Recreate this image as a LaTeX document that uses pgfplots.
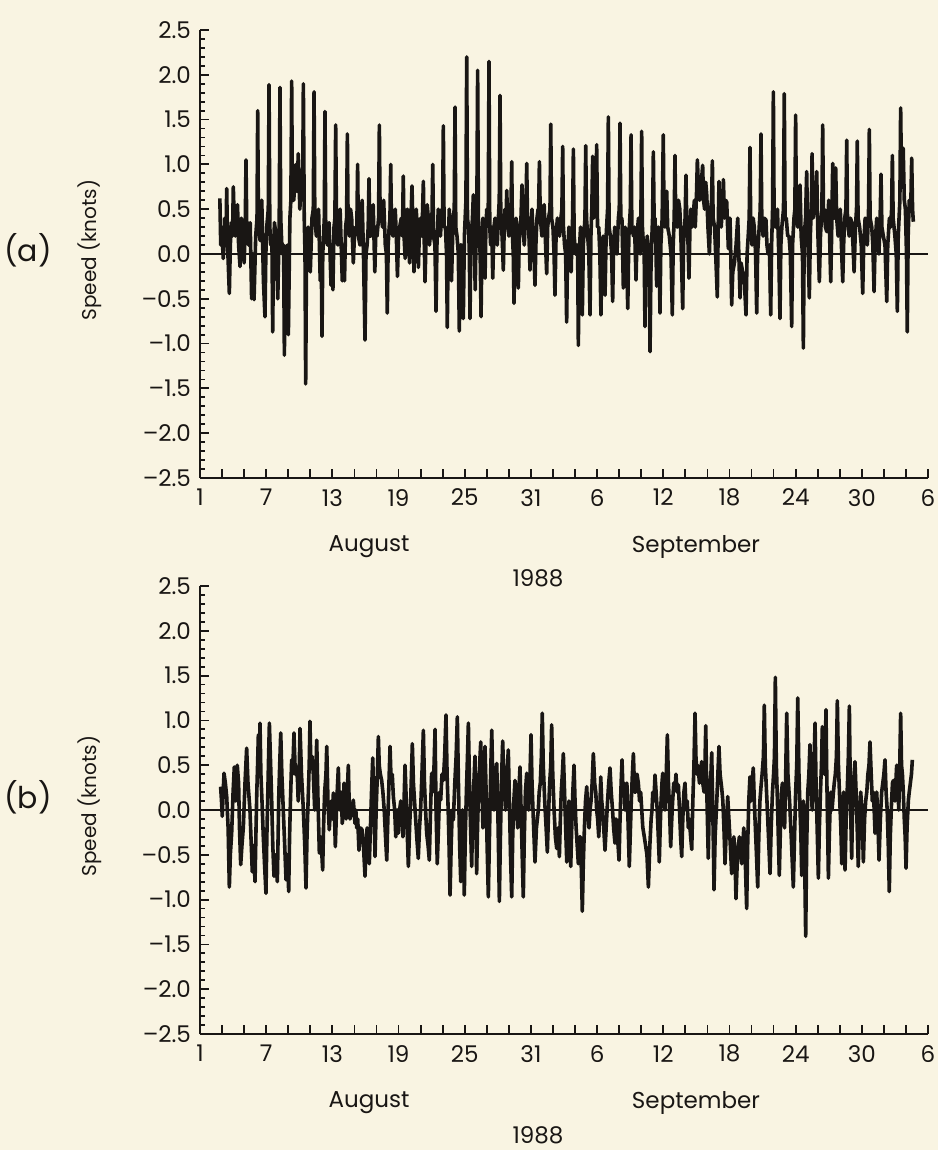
\documentclass[border=0pt]{standalone}
\usepackage{fontspec}
\setmainfont{Poppins}
\usepackage{pgfplots}
\usepackage{pgfplotstable}
\pgfplotsset{compat=1.18}
\definecolor{paper}{RGB}{249,244,226}
\definecolor{ink}{RGB}{25,22,20}

\pgfplotstableread{
d v
2.80 0.62
2.88 0.10
2.95 0.30
3.11 -0.05
3.25 0.40
3.36 0.20
3.42 0.73
3.50 0.10
3.66 -0.44
3.75 0.10
3.85 0.35
3.95 0.20
4.02 0.75
4.10 0.40
4.20 0.20
4.30 0.50
4.40 0.55
4.50 0.10
4.63 -0.14
4.75 0.40
4.85 0.30
5.00 -0.10
5.10 0.30
5.17 1.05
5.24 0.30
5.40 0.10
5.55 0.35
5.68 -0.50
5.78 0.00
5.90 -0.51
6.05 0.20
6.17 0.40
6.23 1.60
6.30 0.30
6.45 0.15
6.60 0.60
6.75 -0.30
6.89 -0.70
6.97 0.00
7.05 0.30
7.19 0.50
7.26 1.89
7.33 0.30
7.42 0.10
7.52 0.20
7.59 -0.87
7.66 0.00
7.75 0.35
7.90 0.20
8.05 -0.50
8.18 0.30
8.25 1.86
8.32 0.40
8.45 0.00
8.58 0.10
8.65 -1.13
8.72 0.00
8.80 0.05
8.93 0.10
9.01 -0.90
9.15 0.40
9.24 0.60
9.31 1.93
9.38 0.60
9.50 0.60
9.60 0.80
9.70 1.00
9.80 0.70
9.91 1.12
10.05 0.50
10.20 0.90
10.30 0.60
10.37 1.90
10.45 0.40
10.52 0.00
10.58 -1.45
10.66 0.00
10.80 0.30
11.00 -0.20
11.15 0.40
11.27 0.50
11.34 1.81
11.41 0.40
11.55 0.20
11.75 0.50
11.90 -0.30
11.99 0.00
12.06 -0.92
12.13 0.00
12.20 0.20
12.27 0.40
12.33 1.59
12.40 0.30
12.55 0.10
12.70 0.35
12.88 -0.35
12.97 0.10
13.05 -0.40
13.15 0.30
13.23 0.40
13.30 1.44
13.38 0.30
13.50 0.10
13.60 0.40
13.70 0.50
13.90 -0.30
14.00 0.10
14.10 -0.30
14.20 0.30
14.29 0.40
14.36 1.34
14.43 0.30
14.55 0.20
14.65 0.50
14.75 0.40
14.90 -0.10
15.00 0.20
15.10 0.30
15.22 0.30
15.29 1.00
15.36 0.20
15.50 0.10
15.60 0.40
15.70 0.60
15.82 0.00
15.96 -0.96
16.05 0.00
16.15 0.10
16.25 0.30
16.32 0.84
16.40 0.20
16.50 0.20
16.60 0.40
16.70 0.55
16.85 -0.20
16.95 0.30
17.05 0.20
17.19 0.40
17.26 1.44
17.33 0.40
17.45 0.40
17.55 0.30
17.65 0.60
17.80 0.10
17.90 0.00
17.98 -0.66
18.06 0.10
18.15 0.30
18.22 0.40
18.29 1.00
18.36 0.30
18.50 0.20
18.60 0.40
18.70 0.50
18.80 0.20
18.90 -0.25
19.00 0.20
19.10 0.30
19.25 0.40
19.35 0.20
19.43 0.87
19.50 0.20
19.60 -0.05
19.70 0.30
19.80 0.50
19.90 0.20
20.00 -0.10
20.10 0.30
20.22 0.76
20.30 0.30
20.40 -0.20
20.50 0.30
20.60 0.50
20.70 0.30
20.80 -0.15
20.90 0.30
21.00 0.40
21.12 0.20
21.25 0.81
21.32 0.20
21.40 -0.31
21.50 0.20
21.60 0.55
21.70 0.40
21.80 0.10
21.95 0.30
22.03 0.40
22.10 1.00
22.17 0.20
22.30 0.10
22.40 -0.64
22.48 0.10
22.60 0.50
22.70 0.30
22.80 0.20
22.92 0.50
22.99 0.40
23.06 1.43
23.13 0.30
23.25 0.30
23.35 0.00
23.42 -0.82
23.50 0.10
23.60 0.50
23.70 0.20
23.80 -0.30
23.95 0.40
24.05 0.50
24.12 1.64
24.19 0.30
24.30 0.20
24.42 0.00
24.51 -0.86
24.60 0.10
24.70 0.10
24.80 0.00
24.87 -0.72
24.97 0.20
25.11 0.60
25.18 2.20
25.25 0.40
25.35 0.30
25.42 0.00
25.48 -0.72
25.55 0.10
25.60 0.20
25.70 0.40
25.78 0.66
25.88 0.10
25.95 -0.40
26.03 0.20
26.10 0.50
26.17 2.05
26.24 0.40
26.30 0.20
26.40 0.00
26.48 -0.70
26.56 0.10
26.65 0.40
26.75 0.20
26.84 -0.27
26.92 0.30
27.00 0.50
27.13 0.40
27.20 2.15
27.27 0.30
27.35 0.10
27.45 0.30
27.54 -0.27
27.65 0.30
27.75 0.40
27.85 0.30
27.95 0.10
28.05 0.40
28.13 0.60
28.20 1.77
28.27 0.40
28.35 0.30
28.42 0.10
28.50 -0.18
28.58 0.30
28.65 0.50
28.73 0.30
28.81 0.71
28.90 0.30
29.00 0.20
29.12 0.40
29.19 0.50
29.26 1.03
29.33 0.20
29.40 0.00
29.47 -0.55
29.56 0.20
29.65 0.40
29.75 0.20
29.86 -0.38
29.93 0.10
30.00 0.30
30.10 0.40
30.19 0.77
30.28 0.30
30.40 0.10
30.50 0.40
30.55 0.50
30.62 1.01
30.70 0.30
30.80 0.30
30.92 -0.18
31.00 0.30
31.10 0.50
31.20 0.20
31.28 0.00
31.37 -0.35
31.45 0.10
31.55 0.40
31.65 0.50
31.70 0.50
31.77 1.03
31.85 0.40
32.00 0.20
32.10 0.50
32.20 0.55
32.30 0.20
32.43 -0.22
32.52 0.30
32.60 0.40
32.73 0.50
32.80 1.45
32.87 0.40
33.00 0.30
33.10 0.00
33.18 -0.46
33.28 0.20
33.40 0.40
33.50 0.30
33.60 0.20
33.72 0.40
33.81 0.50
33.88 1.20
33.95 0.30
34.05 0.10
34.15 0.00
34.24 -0.76
34.32 0.00
34.45 0.30
34.55 0.20
34.65 -0.20
34.72 0.20
34.78 0.40
34.85 1.17
34.92 0.20
35.05 0.00
35.18 0.10
35.24 0.00
35.30 -1.02
35.38 0.00
35.50 0.30
35.58 0.00
35.66 -0.68
35.75 0.10
35.85 0.30
35.90 0.40
35.97 1.21
36.04 0.40
36.15 0.20
36.25 0.00
36.36 -0.68
36.44 0.20
36.52 0.50
36.60 1.09
36.68 0.40
36.80 0.50
36.89 0.50
36.96 1.22
37.04 0.30
37.15 0.30
37.25 0.00
37.35 -0.68
37.45 0.10
37.55 0.20
37.65 0.00
37.72 -0.46
37.82 0.20
37.95 0.50
38.02 1.53
38.09 0.30
38.20 0.20
38.32 0.00
38.41 -0.53
38.50 0.10
38.60 0.30
38.70 0.20
38.80 0.00
38.93 0.40
39.01 0.50
39.08 1.46
39.15 0.40
39.25 0.40
39.32 0.00
39.38 -0.38
39.46 0.10
39.55 0.30
39.65 0.10
39.78 -0.61
39.88 0.20
40.01 0.50
40.08 1.33
40.15 0.30
40.30 0.20
40.40 0.30
40.53 -0.29
40.62 0.20
40.75 0.40
40.82 0.20
40.90 0.00
40.97 0.40
41.04 1.37
41.11 0.30
41.20 0.10
41.27 0.00
41.34 -0.81
41.42 0.00
41.55 0.20
41.65 0.00
41.73 -0.30
41.80 -1.09
41.88 -0.20
41.97 0.20
42.03 0.40
42.10 1.14
42.17 0.40
42.25 0.40
42.33 0.10
42.40 -0.36
42.48 0.20
42.55 0.30
42.63 0.00
42.70 -0.66
42.78 0.10
42.90 0.40
43.00 1.33
43.07 0.40
43.15 0.30
43.23 0.50
43.31 0.70
43.40 0.30
43.55 0.20
43.70 0.00
43.82 -0.68
43.90 0.10
43.99 0.40
44.06 1.10
44.13 0.40
44.25 0.30
44.38 0.60
44.50 0.50
44.62 0.10
44.76 -0.61
44.85 0.20
44.98 0.40
45.06 0.88
45.13 0.30
45.25 0.10
45.33 -0.27
45.42 0.30
45.50 0.50
45.60 0.30
45.72 0.44
45.82 0.60
45.90 0.30
46.02 0.70
46.09 1.05
46.17 0.80
46.30 0.60
46.45 0.80
46.57 0.99
46.65 0.60
46.75 0.50
46.85 0.80
46.94 0.66
47.05 0.30
47.18 0.00
47.30 0.50
47.38 0.60
47.45 1.04
47.52 0.40
47.65 0.30
47.75 0.00
47.90 -0.48
47.98 0.30
48.05 0.81
48.13 0.40
48.25 0.30
48.35 0.50
48.45 0.83
48.55 0.40
48.65 0.60
48.75 0.58
48.90 0.06
48.97 0.20
49.05 0.40
49.12 0.00
49.20 -0.57
49.30 -0.20
49.45 -0.10
49.60 0.10
49.75 0.40
49.85 0.00
49.96 -0.49
50.05 -0.10
50.20 -0.20
50.35 -0.30
50.50 -0.68
50.60 0.00
50.70 0.20
50.79 0.40
50.86 1.19
50.93 0.30
51.05 0.10
51.15 0.40
51.25 0.30
51.37 0.00
51.47 -0.66
51.55 0.00
51.65 0.20
51.79 0.50
51.86 1.34
51.93 0.40
52.05 0.20
52.15 0.40
52.31 0.38
52.40 0.10
52.50 0.00
52.62 0.10
52.74 -0.68
52.82 0.10
52.91 0.50
52.98 1.81
53.05 0.40
53.15 0.30
53.25 0.40
53.35 0.50
53.47 0.00
53.58 -0.72
53.66 0.10
53.75 0.30
53.90 0.50
53.97 1.79
54.04 0.40
54.15 0.40
54.28 0.20
54.40 0.20
54.52 0.00
54.64 -0.81
54.72 0.10
54.85 0.40
54.93 0.50
55.00 1.55
55.07 0.40
55.20 0.30
55.30 0.50
55.40 0.77
55.50 0.20
55.62 0.00
55.70 -1.05
55.78 0.20
55.90 0.40
56.00 0.92
56.10 0.20
56.24 -0.49
56.33 0.20
56.42 0.50
56.49 1.12
56.57 0.40
56.70 0.50
56.80 0.60
56.91 0.92
57.00 0.30
57.15 -0.31
57.25 0.20
57.38 0.50
57.45 1.44
57.52 0.50
57.60 0.50
57.70 0.30
57.82 0.25
57.92 0.40
58.00 0.60
58.10 0.10
58.18 -0.31
58.26 0.20
58.36 1.01
58.43 0.40
58.50 0.40
58.56 0.50
58.63 0.96
58.72 0.40
58.85 0.20
58.95 0.40
59.05 0.50
59.15 0.10
59.27 -0.31
59.35 0.10
59.45 0.40
59.56 0.50
59.63 1.27
59.70 0.40
59.85 0.20
59.97 0.40
60.08 0.36
60.20 0.10
60.30 -0.20
60.42 0.30
60.52 0.50
60.59 1.26
60.66 0.40
60.80 0.30
60.95 0.10
61.08 -0.44
61.17 0.10
61.30 0.40
61.40 0.30
61.50 0.10
61.61 0.50
61.68 1.39
61.75 0.40
61.90 0.30
62.00 0.10
62.11 -0.42
62.20 0.10
62.35 0.40
62.45 0.20
62.55 0.00
62.66 0.40
62.74 0.89
62.82 0.30
62.95 0.20
63.10 0.10
63.26 -0.53
63.35 0.10
63.50 0.40
63.62 0.30
63.70 0.50
63.77 1.10
63.84 0.40
64.00 0.20
64.12 0.00
64.22 -0.64
64.30 0.20
64.45 0.60
64.52 1.63
64.60 0.80
64.75 1.18
64.85 0.60
64.95 0.50
65.05 0.00
65.12 -0.87
65.20 0.20
65.30 0.60
65.45 0.60
65.52 1.07
65.60 0.50
65.67 0.36
}\seriesA

\pgfplotstableread{
d v
2.87 0.26
2.95 0.10
3.02 -0.07
3.10 0.20
3.18 0.41
3.30 0.30
3.42 0.15
3.55 -0.20
3.66 -0.86
3.75 -0.50
3.87 -0.26
4.00 0.20
4.11 0.48
4.25 0.10
4.38 0.50
4.50 0.30
4.58 -0.20
4.69 -0.61
4.80 -0.40
4.93 -0.19
5.08 0.30
5.23 0.69
5.35 0.30
5.53 0.00
5.62 -0.30
5.74 -0.69
5.85 -0.40
5.99 -0.80
6.08 -0.20
6.15 0.20
6.22 0.50
6.29 0.84
6.36 0.50
6.44 0.97
6.52 0.40
6.62 0.10
6.74 -0.30
6.85 -0.60
6.98 -0.93
7.06 -0.30
7.15 0.20
7.22 0.60
7.29 0.97
7.38 0.60
7.50 0.10
7.60 -0.40
7.71 -0.74
7.85 -0.50
8.01 -0.80
8.08 -0.30
8.15 0.20
8.25 0.60
8.32 0.86
8.42 0.40
8.55 0.00
8.68 -0.40
8.80 -0.78
8.92 -0.50
9.04 -0.91
9.12 -0.30
9.20 0.10
9.31 0.56
9.40 0.40
9.52 0.86
9.64 0.40
9.77 0.48
9.85 0.30
9.90 0.10
10.00 0.50
10.07 0.91
10.20 0.40
10.37 0.00
10.50 -0.40
10.61 -0.87
10.70 -0.30
10.80 0.10
10.90 0.50
10.97 0.99
11.05 0.50
11.15 0.60
11.27 0.41
11.40 0.00
11.50 0.40
11.58 0.78
11.70 0.10
11.82 -0.48
11.95 -0.30
12.05 -0.50
12.12 -0.67
12.20 -0.20
12.30 0.20
12.42 0.40
12.49 0.71
12.60 0.10
12.72 -0.22
12.82 0.00
12.90 0.10
13.00 -0.10
13.09 0.19
13.18 0.00
13.27 -0.41
13.40 0.10
13.54 0.47
13.62 0.10
13.69 0.00
13.80 0.20
13.90 -0.15
14.00 0.00
14.06 0.30
14.15 0.10
14.25 -0.10
14.35 0.20
14.45 0.50
14.52 0.10
14.60 -0.10
14.75 0.00
14.90 0.11
15.05 -0.15
15.13 0.00
15.21 -0.20
15.30 -0.10
15.41 -0.45
15.55 -0.20
15.69 -0.22
15.82 -0.40
15.96 -0.74
16.05 -0.40
16.15 -0.20
16.25 -0.40
16.35 -0.60
16.45 -0.20
16.55 0.20
16.66 0.58
16.76 0.10
16.87 -0.52
16.97 0.00
17.08 0.40
17.17 0.82
17.25 0.50
17.35 0.40
17.47 0.33
17.58 0.20
17.70 0.00
17.82 -0.30
17.93 -0.56
18.03 -0.10
18.13 0.30
18.23 0.71
18.33 0.30
18.43 0.40
18.53 0.15
18.65 0.00
18.75 -0.30
18.88 0.00
18.98 -0.26
19.10 0.00
19.20 0.10
19.30 0.00
19.40 -0.30
19.50 0.10
19.59 0.50
19.70 0.10
19.80 -0.30
19.89 -0.63
20.00 -0.20
20.10 0.10
20.17 0.40
20.25 0.74
20.35 0.30
20.50 0.00
20.65 -0.30
20.79 -0.54
20.90 -0.20
21.00 0.00
21.12 0.40
21.25 0.89
21.35 0.30
21.45 0.00
21.55 -0.26
21.68 -0.40
21.79 -0.56
21.90 0.00
22.00 0.41
22.10 0.20
22.22 0.50
22.31 0.90
22.40 0.00
22.51 -0.60
22.62 -0.20
22.72 0.20
22.82 0.11
22.94 0.40
23.06 0.33
23.18 0.60
23.30 1.06
23.40 0.40
23.50 0.00
23.58 -0.40
23.67 -0.95
23.77 -0.40
23.87 0.00
23.97 -0.11
24.10 0.30
24.22 0.60
24.33 1.04
24.43 0.30
24.54 -0.40
24.64 -0.80
24.72 -0.30
24.80 0.00
24.88 -0.40
24.96 -0.95
25.05 -0.30
25.15 0.20
25.25 0.60
25.33 0.97
25.43 0.30
25.53 -0.20
25.63 -0.63
25.73 0.00
25.83 0.30
25.93 0.60
26.00 0.00
26.08 -0.71
26.16 -0.20
26.25 0.20
26.35 0.50
26.45 0.76
26.55 0.30
26.65 -0.20
26.75 0.30
26.84 0.71
26.92 0.30
27.03 -0.40
27.14 -0.97
27.24 -0.30
27.35 0.40
27.45 0.89
27.55 0.30
27.65 0.00
27.78 0.30
27.90 0.52
28.00 0.00
28.07 -0.50
28.14 -1.02
28.22 -0.40
28.33 0.30
28.44 0.77
28.56 0.30
28.70 0.00
28.83 0.40
28.95 0.67
29.05 0.10
29.15 -0.50
29.26 -0.97
29.35 -0.30
29.45 0.10
29.56 0.33
29.68 0.10
29.80 -0.20
29.90 0.20
30.01 0.48
30.11 0.00
30.21 -0.50
30.31 -0.97
30.40 -0.30
30.50 0.20
30.62 0.41
30.70 0.20
30.80 0.00
30.92 0.40
31.01 0.84
31.10 0.30
31.25 -0.20
31.37 -0.58
31.50 -0.20
31.67 0.00
31.75 0.20
31.85 0.30
31.95 0.60
32.03 1.08
32.12 0.50
32.25 0.10
32.38 -0.20
32.49 -0.47
32.58 -0.10
32.70 0.30
32.80 0.50
32.88 0.95
32.98 0.40
33.10 0.00
33.22 -0.30
33.34 -0.43
33.45 -0.20
33.58 -0.52
33.67 -0.10
33.75 0.20
33.85 0.40
33.94 0.63
34.05 0.20
34.15 -0.20
34.25 -0.58
34.35 -0.20
34.45 0.10
34.53 -0.20
34.61 -0.63
34.70 -0.20
34.80 0.20
34.91 0.50
35.00 0.10
35.10 -0.20
35.20 -0.40
35.30 -0.60
35.40 -0.30
35.50 -0.30
35.58 -0.70
35.66 -1.13
35.75 -0.60
35.85 -0.20
35.95 0.10
36.06 0.26
36.15 0.00
36.27 -0.20
36.36 0.00
36.45 0.10
36.55 0.30
36.66 0.63
36.78 0.30
36.88 0.20
36.96 0.00
37.05 -0.10
37.15 -0.30
37.25 0.00
37.33 0.37
37.42 0.10
37.50 0.00
37.60 -0.20
37.72 -0.45
37.82 -0.20
37.95 0.10
38.05 0.30
38.17 0.47
38.28 0.20
38.40 0.00
38.50 -0.20
38.62 -0.37
38.72 -0.10
38.85 -0.30
38.99 -0.56
39.08 -0.10
39.18 0.30
39.26 0.56
39.35 0.20
39.45 0.30
39.53 0.00
39.62 0.20
39.70 0.30
39.80 -0.10
39.92 -0.63
40.00 -0.30
40.10 0.10
40.20 0.40
40.29 0.63
40.40 0.20
40.50 0.20
40.62 0.40
40.74 0.30
40.85 0.10
40.95 0.20
41.05 0.00
41.14 -0.19
41.28 -0.30
41.40 -0.40
41.52 -0.50
41.65 -0.86
41.78 -0.40
41.90 -0.10
41.98 0.00
42.05 0.20
42.15 0.10
42.25 0.39
42.35 0.20
42.45 0.00
42.55 -0.30
42.64 -0.58
42.72 -0.20
42.80 0.10
42.88 0.30
42.95 0.41
43.05 0.20
43.15 0.00
43.27 0.40
43.37 0.84
43.47 0.30
43.57 0.00
43.67 -0.41
43.77 -0.10
43.85 0.10
43.95 0.30
44.06 0.22
44.15 0.40
44.25 0.20
44.37 0.28
44.47 0.00
44.57 -0.30
44.67 -0.52
44.77 -0.10
44.87 0.20
44.97 0.30
45.07 0.00
45.17 0.10
45.27 -0.20
45.37 -0.10
45.48 -0.30
45.58 -0.44
45.68 0.10
45.78 0.50
45.88 1.08
45.96 0.60
46.05 0.40
46.12 0.50
46.18 0.45
46.28 0.30
46.38 0.40
46.48 0.54
46.58 0.30
46.70 0.20
46.78 0.50
46.85 0.94
46.93 0.30
47.00 -0.10
47.08 -0.54
47.16 0.00
47.25 0.30
47.32 0.40
47.39 0.64
47.46 0.20
47.53 -0.30
47.60 -0.89
47.70 -0.30
47.85 0.10
47.95 0.40
48.05 0.71
48.15 0.40
48.30 0.24
48.40 0.10
48.50 -0.20
48.60 -0.60
48.72 -0.20
48.84 0.15
48.95 -0.10
49.08 -0.40
49.20 -0.71
49.30 -0.50
49.40 -0.30
49.50 -0.50
49.59 -0.99
49.70 -0.60
49.80 -0.40
49.90 -0.30
50.00 -0.40
50.11 -0.60
50.20 -0.40
50.30 -0.20
50.42 -0.50
50.56 -1.10
50.65 -0.40
50.75 0.10
50.86 0.37
50.95 0.10
51.05 0.30
51.16 0.47
51.25 0.10
51.35 -0.20
51.45 -0.50
51.56 -0.86
51.66 -0.30
51.76 0.10
51.86 0.26
51.96 0.40
52.08 0.60
52.16 1.17
52.25 0.50
52.40 0.10
52.54 -0.30
52.68 -0.71
52.78 -0.20
52.90 0.20
53.00 0.40
53.08 0.60
53.16 1.48
53.25 0.50
53.35 0.10
53.43 -0.30
53.52 -0.73
53.62 -0.20
53.72 0.20
53.80 0.30
53.90 0.10
54.00 -0.20
54.10 0.40
54.19 1.08
54.30 0.40
54.45 0.10
54.60 -0.30
54.79 -0.86
54.90 -0.30
55.00 0.20
55.10 0.50
55.19 1.25
55.30 0.40
55.40 0.00
55.48 -0.30
55.55 -0.73
55.63 -0.20
55.70 0.10
55.80 -0.40
55.91 -1.41
56.00 -0.40
56.10 0.20
56.20 0.40
56.30 0.73
56.40 0.30
56.50 0.00
56.60 0.40
56.68 0.60
56.76 0.97
56.85 0.30
56.95 -0.20
57.06 -0.76
57.15 -0.20
57.25 0.20
57.34 0.50
57.42 0.93
57.50 0.50
57.60 0.40
57.68 0.60
57.75 1.12
57.82 0.40
57.90 -0.20
57.97 -0.76
58.05 -0.30
58.12 0.00
58.20 0.20
58.30 0.00
58.42 0.19
58.50 0.30
58.60 0.40
58.70 0.60
58.78 1.22
58.88 0.50
59.00 0.10
59.10 -0.20
59.18 -0.60
59.26 -0.20
59.35 0.20
59.42 -0.20
59.48 -0.67
59.58 -0.10
59.70 0.30
59.78 0.60
59.87 1.16
59.95 0.30
60.02 -0.20
60.08 -0.54
60.14 -0.10
60.20 0.20
60.30 0.40
60.38 0.54
60.48 0.20
60.58 -0.20
60.68 -0.63
60.78 -0.10
60.90 0.20
61.00 0.00
61.08 -0.30
61.14 -0.58
61.25 -0.10
61.35 0.10
61.45 0.20
61.55 0.40
61.65 0.50
61.74 0.76
61.85 0.40
61.95 0.10
62.05 0.20
62.12 0.00
62.20 -0.26
62.28 0.00
62.35 0.20
62.45 -0.10
62.56 -0.56
62.68 -0.10
62.80 0.20
62.90 0.30
63.00 0.40
63.10 0.56
63.20 0.20
63.30 0.00
63.40 -0.40
63.49 -0.91
63.58 -0.30
63.70 0.10
63.78 0.30
63.86 0.33
63.93 0.20
64.00 0.10
64.08 0.30
64.16 0.50
64.25 0.30
64.35 0.00
64.44 0.50
64.52 1.08
64.60 0.50
64.68 0.40
64.76 0.20
64.85 -0.10
64.93 -0.30
65.01 -0.65
65.10 -0.20
65.22 0.11
65.30 0.20
65.40 0.30
65.50 0.40
65.58 0.56
}\seriesB

\pgfplotsset{
  speedaxis/.style={
    scale only axis, width=364pt, height=224pt,
    xmin=1, xmax=67, ymin=-2.5, ymax=2.5,
    enlargelimits=false,
    axis x line*=bottom, axis y line*=left,
    axis line style={-, line width=1.1pt, ink},
    xtick={1,3,...,67},
    xticklabels={1,,,7,,,13,,,19,,,25,,,31,,,6,,,12,,,18,,,24,,,30,,,6},
    ytick={-2.5,-2.0,-1.5,-1.0,-0.5,0,0.5,1.0,1.5,2.0,2.5},
    yticklabels={–2.5,–2.0,–1.5,–1.0,–0.5,0.0,0.5,1.0,1.5,2.0,2.5},
    minor y tick num=4,
    tick align=inside,
    major tick length=4.5pt, minor tick length=2.3pt,
    tick style={line width=0.9pt, ink},
    ticklabel style={font=\fontsize{11.5}{13}\selectfont, text=ink},
    xticklabel style={yshift=-2pt},
    yticklabel style={xshift=-1pt},
    clip=false,
  }
}

\begin{document}
\begin{tikzpicture}
\fill[paper] (-100pt,239pt) rectangle (369pt,-336pt);

\begin{axis}[speedaxis, at={(0pt,0pt)}, anchor=south west]
\addplot[ink, line width=1.1pt, forget plot] coordinates {(1,0) (67,0)};
\addplot[ink, line width=1.8pt, line join=round, mark=none] table[x=d, y=v] {\seriesA};
\end{axis}

\begin{axis}[speedaxis, at={(0pt,-278pt)}, anchor=south west]
\addplot[ink, line width=1.1pt, forget plot] coordinates {(1,0) (67,0)};
\addplot[ink, line width=1.8pt, line join=round, mark=none] table[x=d, y=v] {\seriesB};
\end{axis}

\begin{scope}[every node/.style={text=ink}]
\node[font=\fontsize{11.5}{13}\selectfont] at (84.5pt,-34.5pt) {August};
\node[font=\fontsize{11.5}{13}\selectfont] at (248pt,-34.5pt) {September};
\node[font=\fontsize{11.5}{13}\selectfont] at (169pt,-50pt) {1988};
\node[font=\fontsize{11.5}{13}\selectfont] at (84.5pt,-312.5pt) {August};
\node[font=\fontsize{11.5}{13}\selectfont] at (248pt,-312.5pt) {September};
\node[font=\fontsize{11.5}{13}\selectfont] at (169pt,-328.5pt) {1988};
\node[font=\fontsize{10}{12}\selectfont, rotate=90] at (-55pt,114pt) {Speed (knots)};
\node[font=\fontsize{10}{12}\selectfont, rotate=90] at (-55pt,-164pt) {Speed (knots)};
\node[font=\fontsize{15}{17}\selectfont] at (-86pt,114pt) {(a)};
\node[font=\fontsize{15}{17}\selectfont] at (-86pt,-159.5pt) {(b)};
\end{scope}

\pgfresetboundingbox
\path[use as bounding box] (-100pt,239pt) rectangle (369pt,-336pt);
\end{tikzpicture}
\end{document}
